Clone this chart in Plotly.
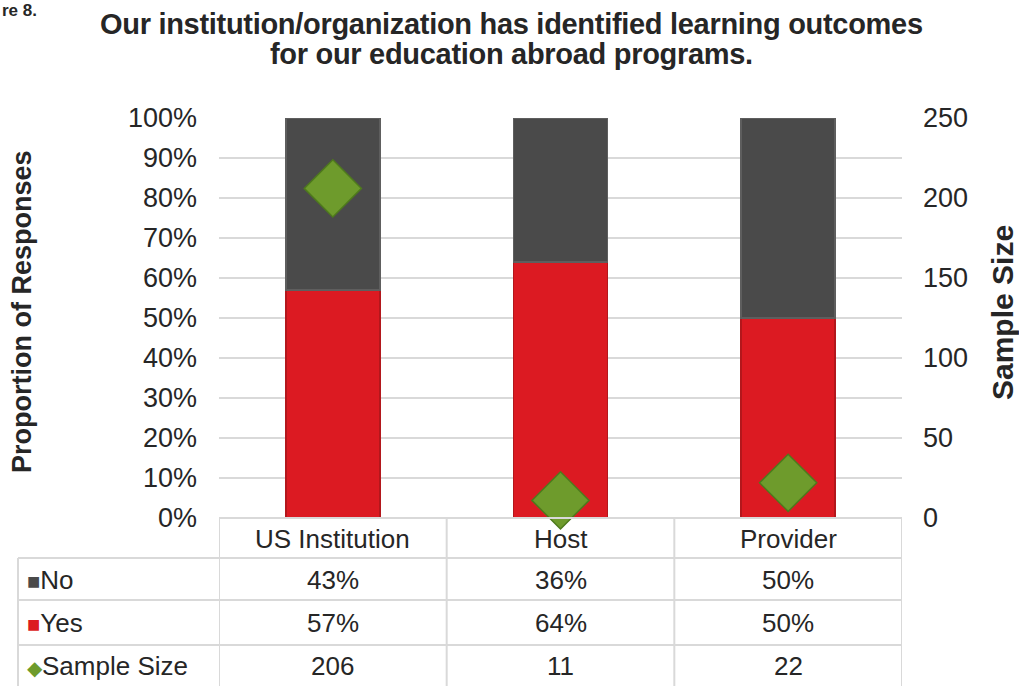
import plotly.graph_objects as go

categories = ["US Institution", "Host", "Provider"]
yes_pct = [57, 64, 50]
no_pct = [43, 36, 50]
sample_size = [206, 11, 22]
left_ticks = [0, 10, 20, 30, 40, 50, 60, 70, 80, 90, 100]
right_ticks = [0, 50, 100, 150, 200, 250]
title_lines = ["Our institution/organization has identified learning outcomes",
               "for our education abroad programs."]

FONT = "Liberation Sans, Arial, sans-serif"
TXT = "#262626"
DARK = "#4a4a4a"
RED = "#dc1a22"
GREEN = "#6e9b2c"
GRID = "#d9d9d9"

fig = go.Figure()
fig.add_trace(go.Bar(x=categories, y=yes_pct, name="Yes",
                     marker=dict(color=RED, line=dict(color="#b3171c", width=1.5))))
fig.add_trace(go.Bar(x=categories, y=no_pct, name="No",
                     marker=dict(color=DARK, line=dict(color="#5e5e5e", width=1.5))))
fig.add_trace(go.Scatter(x=categories, y=sample_size, name="Sample Size", yaxis="y2", mode="markers",
                         cliponaxis=False,
                         marker=dict(symbol="diamond", size=44, color=GREEN,
                                     line=dict(color="#4e7a1c", width=1.5))))

W, H = 1019, 686
ml, mr, mt, mb = 219, 117, 118, 168
plot_h = H - mt - mb
plot_w = W - ml - mr


def py(px):
    return (H - mb - px) / plot_h


def pxx(px):
    return (px - ml) / plot_w


fig.update_layout(
    width=W, height=H,
    margin=dict(l=ml, r=mr, t=mt, b=mb),
    paper_bgcolor="white", plot_bgcolor="white",
    barmode="stack", bargap=0.587, showlegend=False,
    xaxis=dict(showticklabels=False, showgrid=False, zeroline=False, showline=False,
               range=[-0.5, 2.5], fixedrange=True),
    yaxis=dict(range=[0, 100], tickvals=left_ticks, ticktext=[f"{v}%" for v in left_ticks],
               showgrid=True, gridcolor=GRID, gridwidth=2, zeroline=False, showline=False,
               tickfont=dict(family=FONT, size=27, color=TXT), ticklabelstandoff=21),
    yaxis2=dict(range=[0, 250], tickvals=right_ticks, overlaying="y", side="right",
                showgrid=False, zeroline=False, showline=False,
                tickfont=dict(family=FONT, size=27, color=TXT), ticklabelstandoff=20),
)

# title (two lines, tight spacing)
for txt, yc in zip(title_lines, [24, 54]):
    fig.add_annotation(text=f"<span style='letter-spacing:-0.3px'><b>{txt}</b></span>",
                       xref="paper", yref="paper", x=pxx(511), y=py(yc),
                       xanchor="center", yanchor="middle", showarrow=False,
                       font=dict(family=FONT, size=29, color=TXT))

# axis titles
fig.add_annotation(text="<b>Proportion of Responses</b>", xref="paper", yref="paper",
                   x=pxx(22), y=py(312), xanchor="center", yanchor="middle", textangle=-90,
                   showarrow=False, font=dict(family=FONT, size=27, color=TXT))
fig.add_annotation(text="<b>Sample Size</b>", xref="paper", yref="paper",
                   x=pxx(1002), y=py(312), xanchor="center", yanchor="middle", textangle=-90,
                   showarrow=False, font=dict(family=FONT, size=30, color=TXT))
fig.add_annotation(text="<b>re 8.</b>", xref="paper", yref="paper", x=pxx(0), y=py(11),
                   xanchor="left", yanchor="middle", showarrow=False,
                   font=dict(family=FONT, size=17, color=TXT))

# data table
line = dict(color=GRID, width=2)
fig.add_shape(type="line", xref="x", yref="paper", x0=-0.5, x1=2.5, y0=py(518), y1=py(518), line=line)
for r in [558, 600, 645]:
    fig.add_shape(type="line", xref="paper", yref="paper", x0=pxx(18), x1=1, y0=py(r), y1=py(r), line=line)
for xb in [-0.5, 0.5, 1.5, 2.5]:
    fig.add_shape(type="line", xref="x", yref="paper", x0=xb, x1=xb, y0=py(518), y1=py(692), line=line)
fig.add_shape(type="line", xref="paper", yref="paper", x0=pxx(18), x1=pxx(18), y0=py(558), y1=py(692), line=line)

tf = dict(family=FONT, size=26, color=TXT)
centers = [539, 580, 623, 666]
for c in categories:
    fig.add_annotation(text=c, x=c, xref="x", yref="paper", y=py(centers[0]), xanchor="center",
                       yanchor="middle", showarrow=False, font=tf)
for i, c in enumerate(categories):
    for val, yc in [(f"{no_pct[i]}%", centers[1]), (f"{yes_pct[i]}%", centers[2]), (f"{sample_size[i]}", centers[3])]:
        fig.add_annotation(text=val, x=c, xref="x", yref="paper", y=py(yc), xanchor="center",
                           yanchor="middle", showarrow=False, font=tf)

labels = [(f"<span style='color:{DARK};font-size:22px'>■</span>No", centers[1]),
          (f"<span style='color:{RED};font-size:22px'>■</span>Yes", centers[2]),
          (f"<span style='color:{GREEN};font-size:20px'>◆</span>Sample Size", centers[3])]
for t, c in labels:
    fig.add_annotation(text=t, xref="paper", yref="paper", x=pxx(25), y=py(c), xanchor="left",
                       yanchor="middle", showarrow=False, font=tf)

fig.write_html("out.html", config={"displayModeBar": False},
               post_script="document.body.style.margin='0';document.body.style.overflow='hidden';")
